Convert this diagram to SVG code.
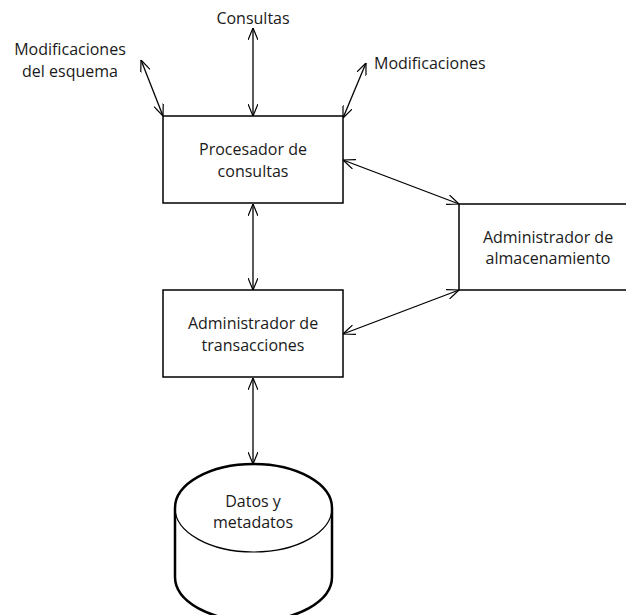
<svg xmlns="http://www.w3.org/2000/svg" width="626" height="615" viewBox="0 0 626 615">
<style>
text{font-family:"Open Sans","Liberation Sans",sans-serif;font-size:16px;fill:#1a1a1a;text-anchor:middle}
.box{fill:#fff;stroke:#000;stroke-width:1.5}
.cyl{fill:#fff;stroke:#000;stroke-width:2.5}
.conn{stroke:#000;stroke-width:1.3;fill:none;marker-start:url(#ah);marker-end:url(#ah)}
</style>
<defs>
<marker id="ah" viewBox="0 0 12 10" refX="12" refY="5" markerWidth="12" markerHeight="10" markerUnits="userSpaceOnUse" orient="auto-start-reverse">
<path d="M0,0 L12,5 L0,10" fill="none" stroke="#000" stroke-width="1.2"/>
</marker>
</defs>
<rect width="626" height="615" fill="#fff"/>
<g id="connectors">
<line class="conn" x1="253" y1="28" x2="253" y2="116"/>
<line class="conn" x1="141" y1="60" x2="163" y2="116"/>
<line class="conn" x1="366" y1="63" x2="343" y2="118"/>
<line class="conn" x1="253" y1="204" x2="253" y2="290"/>
<line class="conn" x1="343" y1="160" x2="459" y2="204"/>
<line class="conn" x1="343" y1="334" x2="459" y2="290"/>
<line class="conn" x1="253" y1="378" x2="253" y2="464"/>
</g>
<g id="label-consultas"><text x="253" y="24">Consultas</text></g>
<g id="label-mod-esquema"><text x="70" y="55">Modificaciones</text><text x="70" y="77">del esquema</text></g>
<g id="label-modificaciones"><text x="374" y="69" style="text-anchor:start">Modificaciones</text></g>
<g id="procesador">
<rect class="box" x="163" y="116" width="180" height="87"/>
<text x="253" y="155">Procesador de</text>
<text x="253" y="177">consultas</text>
</g>
<g id="transacciones">
<rect class="box" x="163" y="290" width="180" height="87"/>
<text x="253" y="329">Administrador de</text>
<text x="253" y="351">transacciones</text>
</g>
<g id="almacenamiento">
<path class="box" d="M630,204 H459 V290 H630"/>
<text x="548" y="243">Administrador de</text>
<text x="548" y="264">almacenamiento</text>
</g>
<g id="datos">
<path class="cyl" d="M175,508 V577 A78.5,44 0 0 0 332,577 V508 A78.5,44 0 0 0 175,508 Z"/>
<path d="M175,508 A78.5,44 0 0 0 332,508" fill="none" stroke="#000" stroke-width="1.2"/>
<text x="253" y="507">Datos y</text>
<text x="253" y="528">metadatos</text>
</g>
</svg>
